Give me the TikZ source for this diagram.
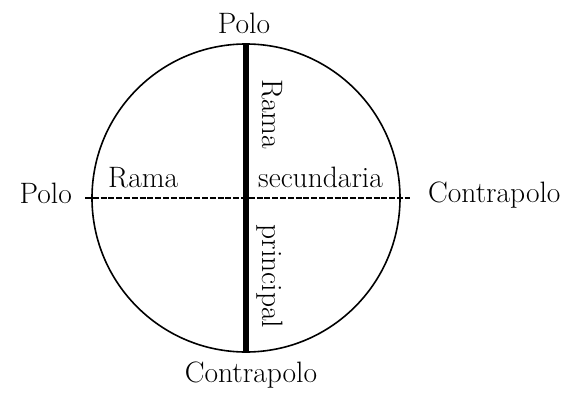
\documentclass[tikz,border=0pt]{standalone}
\usepackage{xcolor}
\usepackage{tikz}
\tikzset{
  disco/.style={draw, circle, minimum size=308pt, inner sep=0pt, line width=1.6pt},
  ramaprin/.style={line width=6.5pt},
  ramasec/.style={line width=2pt, dash pattern=on 6pt off 1.8pt},
  rotulo/.style={inner sep=0pt, font=\fontsize{29.5}{34}\selectfont},
  rotvert/.style={rotulo, rotate=-90, anchor=base}
}

\begin{document}
\begin{tikzpicture}[x=1pt,y=1pt]
  \useasboundingbox (0,0) rectangle (579,392);

  \node[disco] (disco) at (246,194) {};
  \coordinate (izq) at (85,194);
  \coordinate (der) at (410,194);

  \draw[ramaprin] (disco.north) -- (disco.south);
  \draw[ramasec] (izq) -- (der);

  \node[rotulo, anchor=base] (polonorte) at (244,359) {Polo};
  \node[rotulo, anchor=base] (contrasur) at (251,10) {Contrapolo};
  \node[rotulo, anchor=base east] (polooeste) at (72,189) {Polo};
  \node[rotulo, anchor=base west] (contraeste) at (428,190) {Contrapolo};

  \node[rotulo, anchor=base west] (ramah) at (108,205) {Rama};
  \node[rotulo, anchor=base west] (secundaria) at (258,205) {secundaria};
  \node[rotvert] (ramav) at (262,278) {Rama};
  \node[rotvert] (principal) at (262,115.5) {principal};
\end{tikzpicture}
\end{document}
